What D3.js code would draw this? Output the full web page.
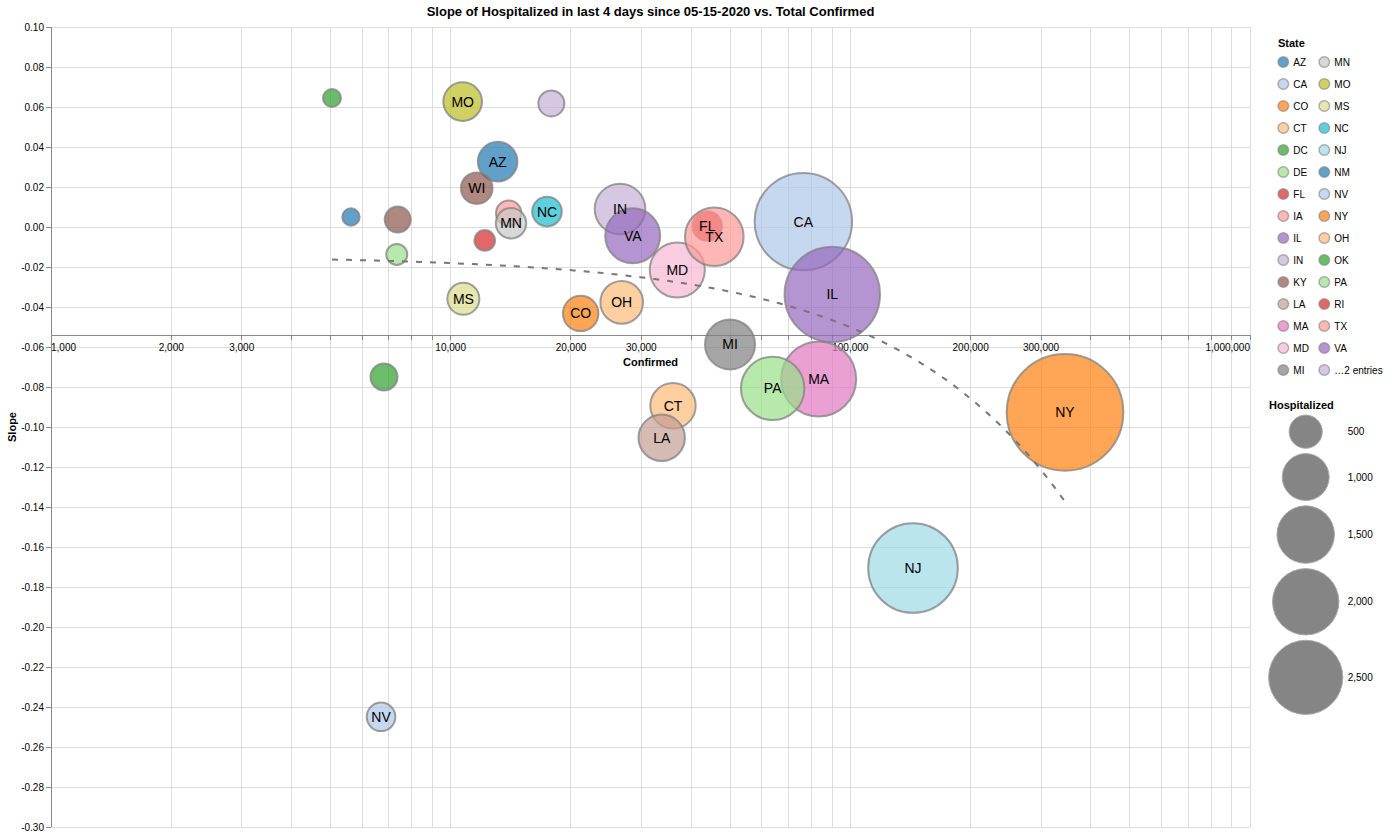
<!DOCTYPE html>
<html><head><meta charset="utf-8">
<script src="https://cdn.jsdelivr.net/npm/d3@7"></script>
<style>
body{margin:0;background:#fff;}
text{font-family:"Liberation Sans", Arial, Helvetica, sans-serif;}
</style>
</head><body>
<svg id="chart" width="1400" height="837"></svg>
<script>
// ---- data ----
const states = ["AZ","CA","CO","CT","DC","DE","FL","IA","IL","IN","KY","LA","MA","MD","MI","MN","MO","MS","NC","NJ","NM","NV","NY","OH","OK","PA","RI","TX","VA","WA","WI"];
const confirmed = [13110, 76280, 21150, 36000, 6810, 7330, 43860, 13970, 90120, 26530, 7370, 33730, 83330, 36900, 50000, 14160, 10716, 10760, 17420, 143500, 5630, 6696, 344400, 26790, 5047, 63930, 12170, 45670, 28540, 17860, 11620];
const slope = [0.0327, 0.0027, -0.0432, -0.0894, -0.075, -0.0137, 0.0005, 0.0069, -0.0337, 0.009, 0.0037, -0.1054, -0.076, -0.0215, -0.0587, 0.0019, 0.0627, -0.0359, 0.0077, -0.1705, 0.005, -0.2449, -0.0927, -0.0377, 0.0645, -0.0807, -0.0067, -0.0049, -0.0044, 0.0618, 0.0194];
const hospitalized = [713, 4312, 570, 937, 331, 200, 398, 293, 4137, 1164, 307, 979, 2557, 1375, 1136, 420, 677, 465, 398, 3649, 138, 372, 6180, 825, 147, 1827, 193, 1561, 1375, 307, 454];
const sizeLegendValues = [500, 1000, 1500, 2000, 2500];
const xDomain = [1000, 1000000];
const yDomain = [-0.30, 0.10];
const yTickValues = d3.range(-30, 11, 2).map(v => v / 100);
const labelMinHospitalized = 350;
const titleText = "Slope of Hospitalized in last 4 days since 05-15-2020 vs. Total Confirmed";
const palette = ["#1f77b4","#aec7e8","#ff7f0e","#ffbb78","#2ca02c","#98df8a","#d62728","#ff9896","#9467bd","#c5b0d5","#8c564b","#c49c94","#e377c2","#f7b6d2","#7f7f7f","#c7c7c7","#bcbd22","#dbdb8d","#17becf","#9edae5"];

const data = states.map((s, i) => ({state: s, confirmed: confirmed[i], slope: slope[i], hosp: hospitalized[i]}));

// ---- layout ----
const svg = d3.select("#chart");
const L = 51, T = 27, W = 1199, H = 800;
const x = d3.scaleLog().domain(xDomain).range([L, L + W]);
const y = d3.scaleLinear().domain(yDomain).range([T + H, T]);
const r = d3.scaleSqrt().domain([0, 2500]).range([0, 37.1]);
const color = d3.scaleOrdinal().domain(states).range(palette);
const loc = d3.formatLocale({decimal: ".", thousands: ",", grouping: [3], currency: ["$", ""], minus: "-"});
const fy = loc.format(".2f"), fx = loc.format(",");
const xAxisY = 335;

// grid
const g = svg.append("g");
const xTicks = x.ticks();
g.selectAll(".vg").data(xTicks).join("line")
  .attr("x1", d => x(d)).attr("x2", d => x(d)).attr("y1", T).attr("y2", T + H)
  .attr("stroke", "#ddd").attr("stroke-width", 1).attr("shape-rendering", "crispEdges");
g.selectAll(".hg").data(yTickValues).join("line")
  .attr("x1", L).attr("x2", L + W).attr("y1", d => y(d)).attr("y2", d => y(d))
  .attr("stroke", "#ddd").attr("stroke-width", 1).attr("shape-rendering", "crispEdges");

// y axis
const ya = svg.append("g");
ya.append("line").attr("x1", L).attr("x2", L).attr("y1", T).attr("y2", T + H)
  .attr("stroke", "#888").attr("shape-rendering", "crispEdges");
ya.selectAll(".yt").data(yTickValues).join("line")
  .attr("x1", L - 5).attr("x2", L).attr("y1", d => y(d)).attr("y2", d => y(d))
  .attr("stroke", "#888").attr("shape-rendering", "crispEdges");
ya.selectAll(".yl").data(yTickValues).join("text")
  .attr("x", L - 7).attr("y", d => y(d) + 3.5).attr("text-anchor", "end")
  .attr("font-size", 10).attr("fill", "#000").text(d => fy(d));
svg.append("text").attr("transform", `translate(16,${T + H / 2}) rotate(-90)`)
  .attr("text-anchor", "middle").attr("font-size", 11).attr("font-weight", "bold").text("Slope");

// x axis
const xa = svg.append("g");
xa.append("line").attr("x1", L).attr("x2", L + W).attr("y1", xAxisY).attr("y2", xAxisY)
  .attr("stroke", "#888").attr("shape-rendering", "crispEdges");
xa.selectAll(".xt").data(xTicks).join("line")
  .attr("x1", d => x(d)).attr("x2", d => x(d)).attr("y1", xAxisY).attr("y2", xAxisY + 5)
  .attr("stroke", "#888").attr("shape-rendering", "crispEdges");
const labelled = xTicks.filter(d => { const m = d / Math.pow(10, Math.floor(Math.log10(d) + 1e-9)); return Math.round(m) <= 3; });
xa.selectAll(".xl").data(labelled).join("text")
  .attr("x", d => x(d)).attr("y", xAxisY + 15.5)
  .attr("text-anchor", (d, i) => i === 0 ? "start" : (i === labelled.length - 1 ? "end" : "middle"))
  .attr("font-size", 10).attr("fill", "#000").text(d => fx(d));
svg.append("text").attr("x", L + W / 2).attr("y", xAxisY + 31)
  .attr("text-anchor", "middle").attr("font-size", 11).attr("font-weight", "bold").text("Confirmed");

// title
svg.append("text").attr("x", L + W / 2).attr("y", 15.5).attr("text-anchor", "middle")
  .attr("font-size", 13).attr("font-weight", "bold").text(titleText);

// bubbles
svg.append("g").selectAll("circle").data(data).join("circle")
  .attr("cx", d => x(d.confirmed)).attr("cy", d => y(d.slope)).attr("r", d => r(d.hosp))
  .attr("fill", d => color(d.state)).attr("fill-opacity", 0.7)
  .attr("stroke", "#808080").attr("stroke-opacity", 0.75).attr("stroke-width", 2);

// regression trend line (linear least squares of slope on confirmed)
const mx = d3.mean(data, d => d.confirmed), my = d3.mean(data, d => d.slope);
const b = d3.sum(data, d => (d.confirmed - mx) * (d.slope - my)) / d3.sum(data, d => (d.confirmed - mx) ** 2);
const a = my - b * mx;
const ext = d3.extent(data, d => d.confirmed);
const samp = d3.scaleLog().domain(ext).ticks ? null : null;
const lx = d3.scaleLinear().domain([0, 100]).range([Math.log10(ext[0]), Math.log10(ext[1])]);
const trend = d3.range(0, 101).map(i => { const c = Math.pow(10, lx(i)); return [c, a + b * c]; });
svg.append("path").datum(trend)
  .attr("d", d3.line().x(d => x(d[0])).y(d => y(d[1])))
  .attr("fill", "none").attr("stroke", "#777").attr("stroke-width", 2).attr("stroke-dasharray", "6,8");

// labels
svg.append("g").selectAll("text").data(data.filter(d => d.hosp >= labelMinHospitalized)).join("text")
  .attr("x", d => x(d.confirmed)).attr("y", d => y(d.slope) + 5)
  .attr("text-anchor", "middle").attr("font-size", 14).attr("fill", "#000").text(d => d.state);

// color legend
const lg = svg.append("g");
lg.append("text").attr("x", 1278).attr("y", 47).attr("font-size", 11).attr("font-weight", "bold").text("State");
const limit = 30;
const shown = states.slice(0, limit - 1).map(s => ({label: s, c: color(s)}));
shown.push({label: "\u2026" + (states.length - (limit - 1)) + " entries", c: color(states[limit - 1])});
const perCol = Math.ceil(shown.length / 2);
const items = lg.selectAll(".li").data(shown).join("g")
  .attr("transform", (d, i) => `translate(${1283.3 + Math.floor(i / perCol) * 41},${62 + (i % perCol) * 22})`);
items.append("circle").attr("r", 5.3).attr("fill", d => d.c).attr("fill-opacity", 0.7)
  .attr("stroke", "#808080").attr("stroke-opacity", 0.6).attr("stroke-width", 1.5);
items.append("text").attr("x", 10).attr("y", 3.5).attr("font-size", 10).text(d => d.label);

// size legend
const sg = svg.append("g");
sg.append("text").attr("x", 1269).attr("y", 409).attr("font-size", 11).attr("font-weight", "bold").text("Hospitalized");
let cy = 431.7;
const sizeItems = sizeLegendValues.map((v, i) => {
  if (i > 0) cy += r(sizeLegendValues[i - 1]) + r(v) + 5.3;
  return {v, cy};
});
sg.selectAll("circle").data(sizeItems).join("circle")
  .attr("cx", 1305.7).attr("cy", d => d.cy).attr("r", d => r(d.v))
  .attr("fill", "#858585").attr("stroke", "#aaa").attr("stroke-width", 1);
sg.selectAll(".sl").data(sizeItems).join("text")
  .attr("x", 1347.7).attr("y", d => d.cy + 3.5).attr("font-size", 10).text(d => fx(d.v));
</script>
</body></html>
